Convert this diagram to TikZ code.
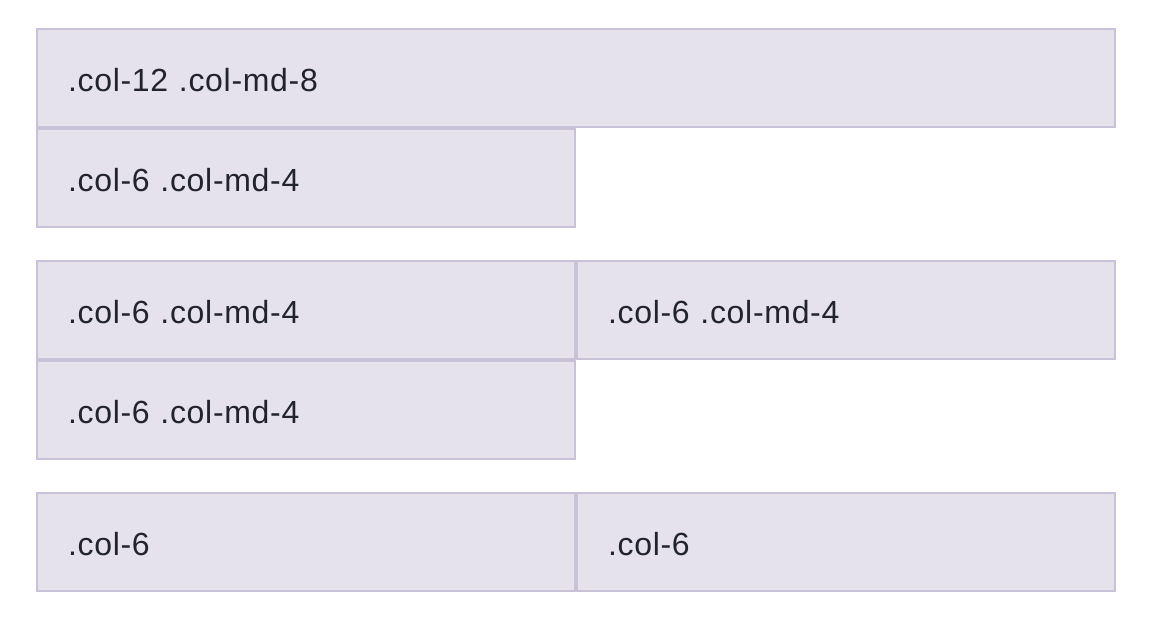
\documentclass[tikz,border=0pt]{standalone}
\usepackage{fontspec}
\setmainfont{Liberation Sans}[LetterSpace=2.2, WordSpace=0.6]
\definecolor{cellfill}{RGB}{230,226,235}
\definecolor{cellline}{RGB}{201,193,213}
\definecolor{celltext}{RGB}{33,37,41}
\tikzset{
  cell/.style={draw=cellline, fill=cellfill, line width=2pt, anchor=north west, outer sep=0pt,
    minimum height=98pt, inner xsep=31pt, inner ysep=0pt, text=celltext,
    font=\fontsize{32}{38}\selectfont, text height=26pt, text depth=0pt, align=left},
  fullcell/.style={cell, minimum width=1078pt, text width=1016pt},
  halfcell/.style={cell, minimum width=538pt, text width=476pt}
}
\begin{document}
\begin{tikzpicture}[x=1pt, y=-1pt]
\useasboundingbox (0,0) rectangle (1156,630);
\node[fullcell] (a1) at (37,29) {.col-12 .col-md-8};
\node[halfcell] (a2) at (37,129) {.col-6 .col-md-4};
\node[halfcell] (b1) at (37,261) {.col-6 .col-md-4};
\node[halfcell] (b2) at (577,261) {.col-6 .col-md-4};
\node[halfcell] (b3) at (37,361) {.col-6 .col-md-4};
\node[halfcell] (c1) at (37,493) {.col-6};
\node[halfcell] (c2) at (577,493) {.col-6};
\end{tikzpicture}
\end{document}
